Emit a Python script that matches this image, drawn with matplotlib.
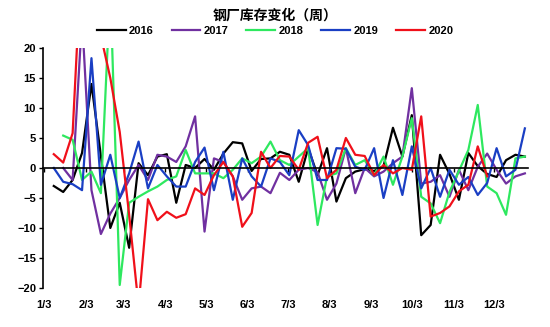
import numpy as np
import matplotlib.pyplot as plt

plt.rcParams['font.family'] = ['Liberation Sans', 'Noto Sans CJK SC']

nan = np.nan

years = ['2016', '2017', '2018', '2019', '2020']
colors = ['#000000', '#7030A0', '#2EE85F', '#1A3FC4', '#F0101A']

# weekly change in steel mill inventory, one list per year
v2016 = [-3, -4, -2, 2.5, 14, 2, -10, -5.8, -13.3, 0.8, -1.2, 1.9, 2.3, -5.8, 0.5, 0,
         1.5, -0.3, 2.4, 4.3, 4.1, -0.5, 1.5, 1.6, 2.7, 2.2, -2.3, 3.3, -1.2, 3.3, -5.6,
         -1.7, -0.6, -0.2, -0.5, 0.3, 6.7, 1.9, 8.8, -11.2, -9.5, 2.2, -1, -5.3, 2.5, 0.3,
         -1, -1.5, 1.3, 2.2, 1.9]
v2017 = [nan, 0, -2, 25, -3.7, -11, -7.6, -5, -2, 0.5, -2, 2.2, 1.9, 1, 3.6, 8.6, -10.6,
         1.6, 1, -1.4, -5.3, -3.4, -3.1, -4.2, -0.8, -2, -0.3, 0, -0.7, -5.3, -2.6, 3.3,
         -4.2, 0, -1.4, -0.6, 0.8, 1.9, 13.3, -2.6, -2.3, -1.2, -4.8, -0.3, -3.7, 0.2, 2.4,
         -0.3, -2.6, -1.4, -0.9]
v2018 = [nan, 5.4, 4.7, -2, -0.6, -4.2, 30, -19.5, -5.8, -4.8, -3.9, -3.1, -2, -1.4, 3,
         -0.9, -0.9, -0.9, -1.7, -0.3, 1.6, 0.8, 1.9, 4.4, 1.3, 0.5, 1.9, 3.3, -9.5, -1.4,
         -0.9, 3.3, 0.5, 1.3, -1.2, 1.9, -2.8, 1.9, 8.3, -4.8, -5.9, -9.2, -4, -0.5, 3,
         10.5, -3.1, -4.2, -7.8, 1.6, 1.9]
v2019 = [0, -2.3, -2.7, -3.7, 18.3, -2.8, 2.2, -5, -0.9, 4.4, -3.4, 0.5, -1.4, -3.1,
         -3.1, 1, 3.4, -3.7, 2.7, -5.3, 1.6, -1.4, -3.1, 1.6, 1, -1.2, 6.3, 3.8, -2, -2,
         3.3, 3.2, 0.2, -0.3, 3.3, -5, 1.3, -4.5, 3.6, -3.4, 0, -4.8, -0.3, -2.8, -1.5,
         -4.5, -2.5, 3.3, -1.4, -0.3, 6.6]
v2020 = [2.3, 0.9, 5.8, 37, 35, 22, 15, 6, -7.8, -23, -5.2, -8.7, -7.3, -8.3, -7.7,
         -3.4, -4.5, -1.2, 1, -1.4, -9.8, -7.5, 2.7, 0, 2, 1.9, -0.3, 4.2, 5.2, -1.7,
         -0.3, 5, 2.2, 2, -1.2, 0.5, -0.9, 0, -0.3, 8.6, -8.1, -7.5, -6.4, -3.9, -2.8,
         3.6, -1.4]
series = [v2016, v2017, v2018, v2019, v2020]

month_labels = ['1/3', '2/3', '3/3', '4/3', '5/3', '6/3', '7/3', '8/3', '9/3',
                '10/3', '11/3', '12/3']
month_days = [2, 33, 61, 92, 122, 153, 183, 214, 245, 275, 306, 336]

fig = plt.figure(figsize=(5.5, 3.27), dpi=100)
ax = fig.add_axes([0.0782, 0.1193, 0.881, 0.734])

for year, vals, c in zip(years, series, colors):
    days = 9 + 7 * np.arange(len(vals))
    ax.plot(days, vals, color=c, lw=1.6, label=year)

ax.set_xlim(1, 361)
ax.set_ylim(-20, 20)
ax.set_yticks(range(-20, 21, 5))
ax.tick_params(axis='y', direction='out', length=3, width=1, labelsize=8, pad=2)
for lab in ax.get_yticklabels():
    lab.set_fontweight('bold')

# category axis sits on the zero line, labels stay at the bottom
ax.spines['top'].set_visible(False)
ax.spines['right'].set_visible(False)
ax.spines['bottom'].set_position(('data', 0))
ax.spines['bottom'].set_linewidth(1.2)
ax.spines['left'].set_linewidth(1.2)
ax.set_xticks(month_days)
ax.tick_params(axis='x', direction='out', length=3, width=1, labelbottom=False)

sec = ax.secondary_xaxis(0)
sec.spines['bottom'].set_visible(False)
sec.set_xticks(month_days, month_labels)
sec.tick_params(length=0, labelsize=8, pad=9)
for lab in sec.get_xticklabels():
    lab.set_fontweight('bold')

fig.text(0.5, 0.953, '钢厂库存变化（周）', ha='center', va='center', fontsize=10,
         fontweight='bold', family=['Noto Sans CJK SC'])
fig.legend(loc='center', bbox_to_anchor=(0.5, 0.905), ncol=5, frameon=False,
           prop={'size': 8, 'weight': 'bold'}, handlelength=2.6, handletextpad=0.3,
           columnspacing=1.6)

fig.savefig('out.png', dpi=100)
